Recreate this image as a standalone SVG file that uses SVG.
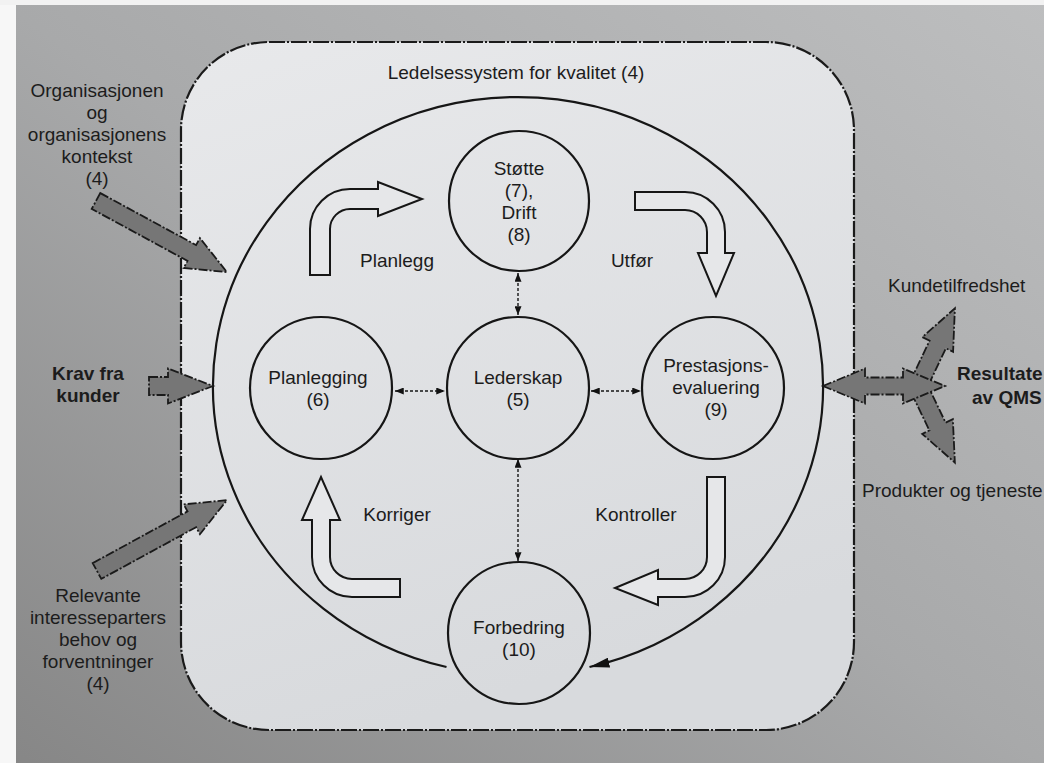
<svg xmlns="http://www.w3.org/2000/svg" width="1044" height="763" viewBox="0 0 1044 763">
<defs>
<linearGradient id="bg" x1="1" y1="0" x2="0" y2="1">
<stop offset="0" stop-color="#bdbebf"/>
<stop offset="0.5" stop-color="#a8a9aa"/>
<stop offset="1" stop-color="#868686"/>
</linearGradient>
<linearGradient id="inner" x1="0" y1="0" x2="0.3" y2="1">
<stop offset="0" stop-color="#e8e9eb"/>
<stop offset="1" stop-color="#d8dadd"/>
</linearGradient>
<marker id="bigHead" viewBox="0 0 20 10" refX="20" refY="5" markerWidth="20" markerHeight="10" markerUnits="userSpaceOnUse" orient="auto">
<path d="M0,0 L20,5 L0,10 z" fill="#111"/>
</marker>
<marker id="sh" viewBox="0 0 10 8" refX="10" refY="4" markerWidth="9" markerHeight="7" markerUnits="userSpaceOnUse" orient="auto-start-reverse">
<path d="M0,0 L10,4 L0,8 z" fill="#111"/>
</marker>
</defs>
<style>
text{font-family:"Liberation Sans",Arial,sans-serif;font-size:19px;fill:#1c1c1c}
.c{text-anchor:middle}
.b{font-weight:bold}
.node{fill:none;stroke:#161616;stroke-width:2.2}
.gray{fill:#767676;stroke:#1a1a1a;stroke-width:1.8;stroke-dasharray:9 2 2 2;stroke-linejoin:miter}
.hollow{fill:#e6e7e9;stroke:#161616;stroke-width:2;stroke-linejoin:miter}
.dash{fill:none;stroke:#161616;stroke-width:1.4;stroke-dasharray:3 2}
</style>
<rect x="0" y="0" width="1044" height="763" fill="url(#bg)"/>
<rect x="0" y="0" width="16" height="763" fill="#f7f7f7"/>
<rect x="0" y="0" width="1044" height="5" fill="#f2f2f2"/>

<g id="system-boundary">
<rect x="181" y="42" width="673" height="688" rx="88" ry="88" fill="url(#inner)" stroke="#1a1a1a" stroke-width="2.2" stroke-dasharray="16 2 2 2"/>
<text class="c" x="516" y="79">Ledelsessystem for kvalitet (4)</text>
</g>

<g id="connectors">
<path d="M 446.5 667 A 305 289 0 1 1 589.5 667" fill="none" stroke="#161616" stroke-width="2.2" marker-end="url(#bigHead)"/>
<line class="dash" x1="518" y1="273" x2="518" y2="315" marker-start="url(#sh)" marker-end="url(#sh)"/>
<line class="dash" x1="518" y1="459" x2="518" y2="561" marker-start="url(#sh)" marker-end="url(#sh)"/>
<line class="dash" x1="395" y1="391" x2="445" y2="391" marker-start="url(#sh)" marker-end="url(#sh)"/>
<line class="dash" x1="591" y1="391" x2="641" y2="391" marker-start="url(#sh)" marker-end="url(#sh)"/>
<path class="hollow" d="M310,275 L310,229 A40,40 0 0 1 350,189 L378,189 L378,182 L422,199 L378,216 L378,209 L350,209 A20,20 0 0 0 330,229 L330,275 Z"/>
<path class="hollow" d="M635,192 L685,192 A40,40 0 0 1 725,232 L725,253 L734,253 L716,296 L698,253 L707,253 L707,232 A22,22 0 0 0 685,210 L635,210 Z"/>
<path class="hollow" d="M707,477 L725,477 L725,557 A40,40 0 0 1 685,597 L658,597 L658,605 L615,588 L658,570 L658,579 L685,579 A22,22 0 0 0 707,557 Z"/>
<path class="hollow" d="M400,597 L352,597 A40,40 0 0 1 312,557 L312,520 L302,520 L321,477 L340,520 L330,520 L330,557 A22,22 0 0 0 352,579 L400,579 Z"/>
<polygon class="gray" transform="translate(96,201) rotate(28.5)" points="0,-9 109,-9 109,-17 149,0 109,17 109,9 0,9"/>
<polygon class="gray" transform="translate(149,386)" points="0,-9 19,-9 19,-17.5 64,0 19,17.5 19,9 0,9"/>
<polygon class="gray" transform="translate(97,571) rotate(-28.6)" points="0,-9 108,-9 108,-17 148,0 108,17 108,9 0,9"/>
<polygon class="gray" transform="translate(918,386) rotate(-64.6)" points="0,-9 46,-9 46,-17 86,0 46,17 46,9 0,9"/>
<polygon class="gray" transform="translate(918,386) rotate(64.3)" points="0,-9 45,-9 45,-17 85,0 45,17 45,9 0,9"/>
<polygon class="gray" points="823,386 865,368.5 865,377.5 903,377.5 903,368.5 945,386 903,403.5 903,394.5 865,394.5 865,403.5"/>
</g>

<g id="labels">
<text class="c" x="397" y="267">Planlegg</text>
<text class="c" x="632" y="267">Utfør</text>
<text class="c" x="397" y="521">Korriger</text>
<text class="c" x="636" y="521">Kontroller</text>
</g>

<g id="node-stotte">
<circle class="node" cx="519" cy="201" r="70"/>
<text class="c" x="519" y="175">Støtte</text>
<text class="c" x="519" y="197">(7),</text>
<text class="c" x="519" y="219">Drift</text>
<text class="c" x="519" y="241">(8)</text>
</g>
<g id="node-planlegging">
<circle class="node" cx="321" cy="388" r="71"/>
<text class="c" x="318" y="384">Planlegging</text>
<text class="c" x="318" y="406">(6)</text>
</g>
<g id="node-lederskap">
<circle class="node" cx="518" cy="388" r="71"/>
<text class="c" x="518" y="384">Lederskap</text>
<text class="c" x="518" y="406">(5)</text>
</g>
<g id="node-prestasjon">
<circle class="node" cx="713" cy="388" r="71"/>
<text class="c" x="716" y="372">Prestasjons-</text>
<text class="c" x="716" y="394">evaluering</text>
<text class="c" x="716" y="416">(9)</text>
</g>
<g id="node-forbedring">
<circle class="node" cx="519" cy="633" r="71"/>
<text class="c" x="519" y="634">Forbedring</text>
<text class="c" x="519" y="656">(10)</text>
</g>

<g id="input-organisasjon">
<text class="c" x="97" y="97">Organisasjonen</text>
<text class="c" x="97" y="119">og</text>
<text class="c" x="97" y="141">organisasjonens</text>
<text class="c" x="97" y="163">kontekst</text>
<text class="c" x="97" y="185">(4)</text>
</g>
<g id="input-krav">
<text class="c b" x="88" y="380">Krav fra</text>
<text class="c b" x="88" y="402">kunder</text>
</g>
<g id="input-interessenter">
<text class="c" x="98" y="602">Relevante</text>
<text class="c" x="98" y="624">interesseparters</text>
<text class="c" x="98" y="646">behov og</text>
<text class="c" x="98" y="668">forventninger</text>
<text class="c" x="98" y="690">(4)</text>
</g>
<g id="output-resultater">
<text x="888" y="292">Kundetilfredshet</text>
<text class="b" x="957" y="380">Resultate</text>
<text class="b" x="972" y="404">av QMS</text>
<text x="862" y="497">Produkter og tjeneste</text>
</g>
</svg>
